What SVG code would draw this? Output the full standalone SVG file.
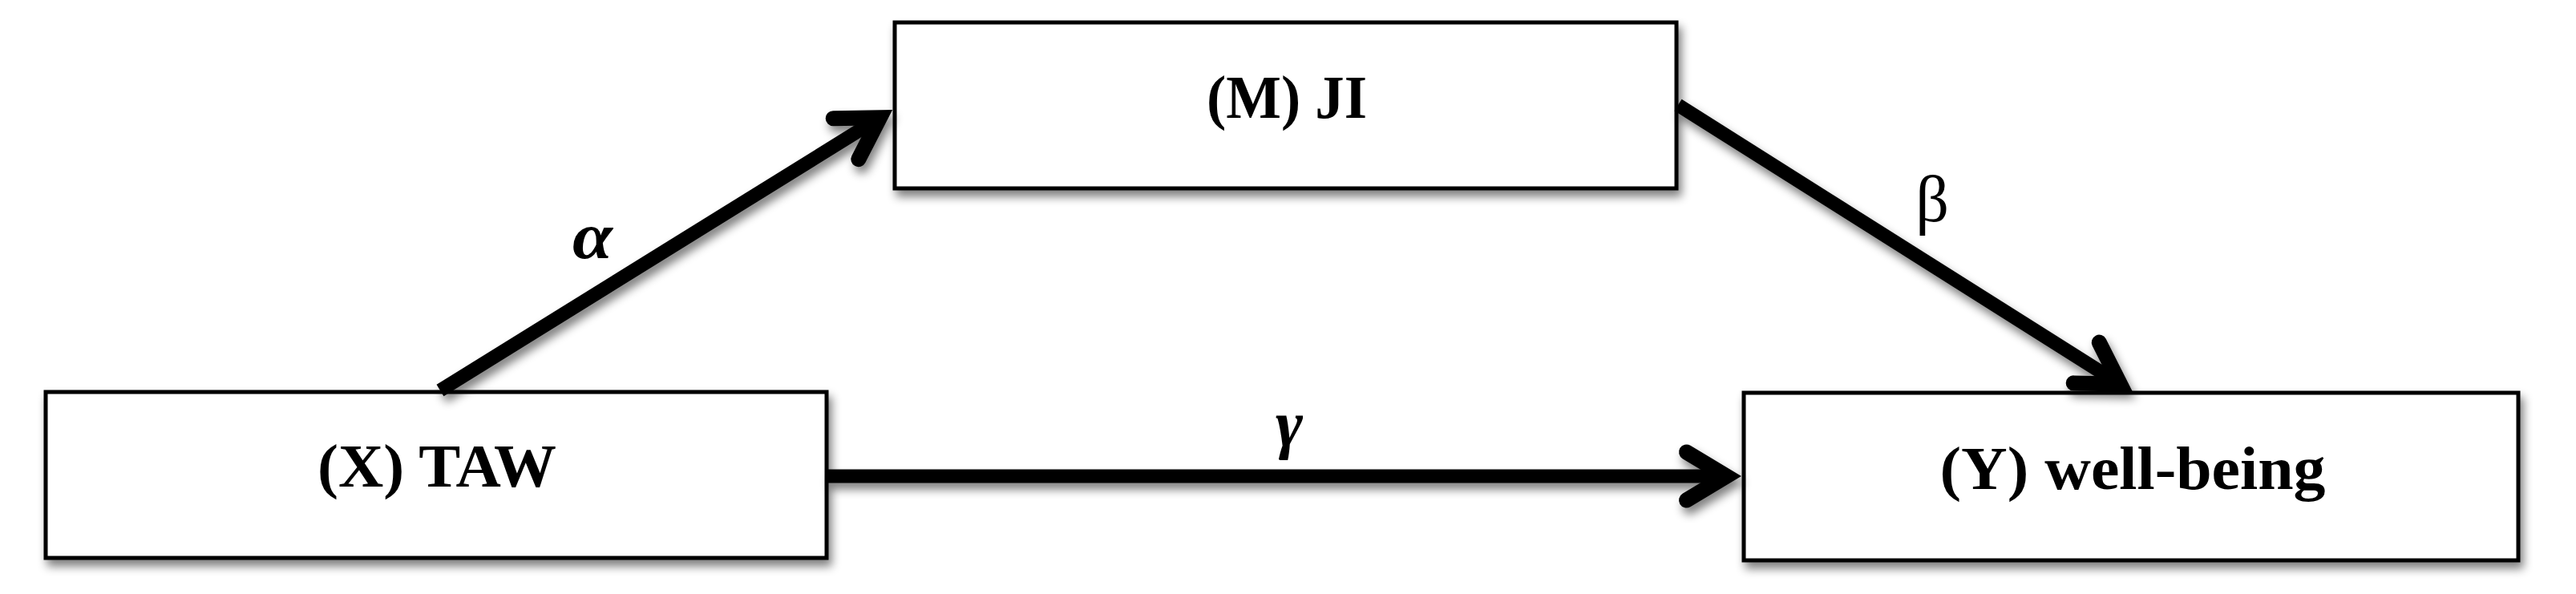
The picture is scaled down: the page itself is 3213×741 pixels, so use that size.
<svg xmlns="http://www.w3.org/2000/svg" width="3213" height="741" viewBox="0 0 3213 741">
  <style>
    .box { fill: #ffffff; stroke: #000000; stroke-width: 5; }
    .label { font-family: "Liberation Serif", "DejaVu Serif", serif; font-weight: bold; font-size: 76px; fill: #000000; text-anchor: middle; }
    .greek { font-family: "Liberation Serif", "DejaVu Serif", serif; font-size: 82px; fill: #000000; text-anchor: middle; }
    .conn { fill: none; stroke: #000000; stroke-width: 17; stroke-linecap: butt; }
  </style>
  <defs>
    <filter id="shadow" x="-10%" y="-20%" width="130%" height="160%">
      <feGaussianBlur in="SourceAlpha" stdDeviation="6"/>
      <feOffset dx="4" dy="8" result="blur"/>
      <feComponentTransfer><feFuncA type="linear" slope="0.5"/></feComponentTransfer>
      <feMerge><feMergeNode/><feMergeNode in="SourceGraphic"/></feMerge>
    </filter>
    <marker id="arrow" markerUnits="userSpaceOnUse" markerWidth="140" markerHeight="140" refX="0" refY="0" orient="auto" overflow="visible" viewBox="-70 -70 140 140">
      <path d="M-50,-30 L0,0 L-50,30" fill="none" stroke="#000000" stroke-width="19" stroke-linecap="round" stroke-linejoin="miter" stroke-miterlimit="4"/>
    </marker>
  </defs>

  <g id="node-x" filter="url(#shadow)">
    <rect class="box" x="57" y="489" width="974" height="207"/>
  </g>
  <g id="node-m" filter="url(#shadow)">
    <rect class="box" x="1116" y="28" width="975" height="207"/>
  </g>
  <g id="node-y" filter="url(#shadow)">
    <rect class="box" x="2175" y="490" width="966" height="209"/>
  </g>

  <g id="connectors" filter="url(#shadow)">
    <line id="edge-alpha" class="conn" x1="549" y1="487" x2="1097.5" y2="146.8" marker-end="url(#arrow)"/>
    <line id="edge-beta" class="conn" x1="2093" y1="131" x2="2644.5" y2="479.2" marker-end="url(#arrow)"/>
    <line id="edge-gamma" class="conn" x1="1031" y1="594" x2="2153.5" y2="594" marker-end="url(#arrow)"/>
  </g>

  <g id="texts">
    <text class="label" x="545" y="607" textLength="298" lengthAdjust="spacingAndGlyphs">(X) TAW</text>
    <text class="label" x="1605" y="147" textLength="200" lengthAdjust="spacingAndGlyphs">(M) JI</text>
    <text class="label" x="2660" y="610" textLength="481" lengthAdjust="spacingAndGlyphs">(Y) well-being</text>
    <text class="greek" x="739" y="322" font-style="italic" font-weight="bold" font-size="84" textLength="50" lengthAdjust="spacingAndGlyphs">α</text>
    <text class="greek" x="2410" y="276">β</text>
    <text class="greek" x="1608" y="556" font-style="italic" font-weight="bold" font-size="80">γ</text>
  </g>
</svg>
